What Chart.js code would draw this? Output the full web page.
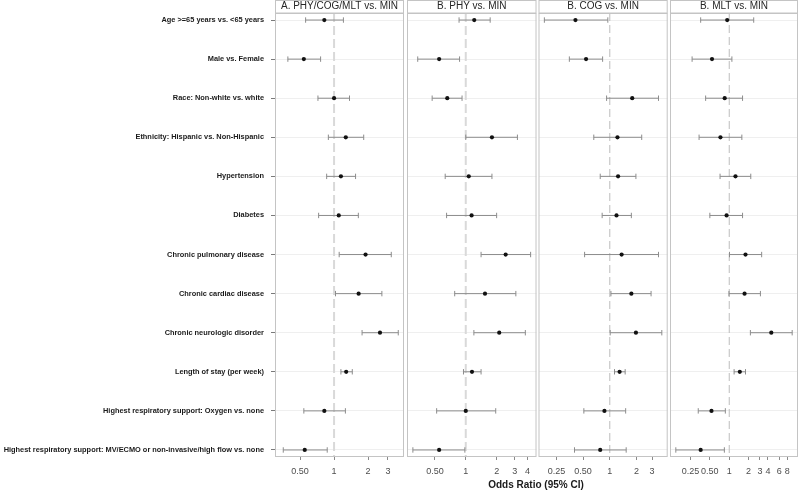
<!DOCTYPE html>
<html><head><meta charset="utf-8">
<script src="https://cdn.jsdelivr.net/npm/chart.js@4.4.1/dist/chart.umd.min.js"></script>
<style>
html,body{margin:0;padding:0;background:#fff;overflow:hidden;}
#wrap{position:relative;width:800px;height:495px;overflow:hidden;background:#fff;}
#wrap canvas{position:absolute;left:0;top:0;}
#xtitle{position:absolute;left:436px;width:200px;top:478px;text-align:center;font:bold 10px 'Liberation Sans',Arial,sans-serif;color:#1a1a1a;line-height:14px;}
</style></head>
<body><div id="wrap">
<canvas id="c0" width="820" height="495"></canvas>
<canvas id="c1" width="820" height="495"></canvas>
<canvas id="c2" width="820" height="495"></canvas>
<canvas id="c3" width="820" height="495"></canvas>
<div id="xtitle">Odds Ratio (95% CI)</div>
</div>
<script>
// ---------- data ----------
const categories = [
  "Age >=65 years vs. <65 years",
  "Male vs. Female",
  "Race: Non-white vs. white",
  "Ethnicity: Hispanic vs. Non-Hispanic",
  "Hypertension",
  "Diabetes",
  "Chronic pulmonary disease",
  "Chronic cardiac disease",
  "Chronic neurologic disorder",
  "Length of stay (per week)",
  "Highest respiratory support: Oxygen vs. none",
  "Highest respiratory support: MV/ECMO or non-invasive/high flow vs. none"
];
const panelTitles = ["A. PHY/COG/MLT vs. MIN", "B. PHY vs. MIN", "B. COG vs. MIN", "B. MLT vs. MIN"];

const orAll  = [0.82, 0.54, 1.00, 1.27, 1.15, 1.10, 1.90, 1.65, 2.55, 1.28, 0.82, 0.55];
const lowAll = [0.56, 0.39, 0.72, 0.89, 0.86, 0.73, 1.11, 1.03, 1.77, 1.15, 0.54, 0.355];
const highAll= [1.21, 0.76, 1.37, 1.83, 1.55, 1.64, 3.21, 2.65, 3.70, 1.45, 1.26, 0.87];

const orPhy  = [1.21, 0.55, 0.66, 1.80, 1.07, 1.14, 2.45, 1.54, 2.12, 1.15, 1.00, 0.55];
const lowPhy = [0.86, 0.34, 0.47, 1.00, 0.63, 0.65, 1.41, 0.78, 1.20, 0.95, 0.52, 0.305];
const highPhy= [1.73, 0.87, 0.92, 3.19, 1.80, 2.00, 4.29, 3.08, 3.81, 1.41, 1.96, 0.98];

const orCog  = [0.41, 0.54, 1.79, 1.22, 1.24, 1.19, 1.36, 1.75, 1.97, 1.29, 0.87, 0.78];
const lowCog = [0.183, 0.35, 0.92, 0.66, 0.78, 0.82, 0.52, 1.03, 1.01, 1.13, 0.51, 0.40];
const highCog= [0.95, 0.83, 3.54, 2.29, 1.97, 1.75, 3.54, 2.92, 3.86, 1.49, 1.51, 1.53];

const orMlt  = [0.93, 0.54, 0.85, 0.73, 1.25, 0.91, 1.79, 1.73, 4.50, 1.46, 0.53, 0.36];
const lowMlt = [0.36, 0.265, 0.43, 0.34, 0.72, 0.50, 1.01, 0.99, 2.13, 1.19, 0.33, 0.148];
const highMlt= [2.40, 1.10, 1.61, 1.57, 2.16, 1.61, 3.19, 3.05, 9.50, 1.79, 0.87, 0.84];

const ticksAll = [0.5, 1, 2, 3];            const tickLabelsAll = ["0.50", "1", "2", "3"];
const ticksPhy = [0.5, 1, 2, 3, 4];         const tickLabelsPhy = ["0.50", "1", "2", "3", "4"];
const ticksCog = [0.25, 0.5, 1, 2, 3];      const tickLabelsCog = ["0.25", "0.50", "1", "2", "3"];
const ticksMlt = [0.25, 0.5, 1, 2, 3, 4, 6, 8]; const tickLabelsMlt = ["0.25", "0.50", "1", "2", "3", "4", "6", "8"];

const refValue = 1;

// ---------- chart ----------
Chart.defaults.font.family = "'Liberation Sans', Arial, sans-serif";
Chart.defaults.animation = false;

const Y_MIN = 0.82, Y_MAX = 12.18;
const CANVAS_W = 820;

const framePlugin = {
  id: 'frame',
  beforeDraw(chart) {
    const {ctx, chartArea: a} = chart;
    ctx.save();
    ctx.fillStyle = '#ffffff';
    ctx.fillRect(a.left, 0, a.right - a.left, a.top);
    ctx.strokeStyle = '#c4c4c4';
    ctx.lineWidth = 1;
    ctx.strokeRect(a.left + 0.5, 0.5, a.right - a.left - 1, a.top - 0.5);
    ctx.restore();
  },
  afterDraw(chart) {
    const {ctx, chartArea: a} = chart;
    ctx.save();
    ctx.strokeStyle = '#c4c4c4';
    ctx.lineWidth = 1;
    ctx.strokeRect(a.left + 0.5, a.top + 0.5, a.right - a.left - 1, a.bottom - a.top - 1);
    ctx.restore();
  }
};

function makePanel(canvasId, title, ors, lows, highs, tickVals, tickLabels, left, right, showY, ref) {
  const allLo = Math.log(Math.min(...lows));
  const allHi = Math.log(Math.max(...highs));
  const ext = (allHi - allLo) * 0.05;
  const xMin = Math.exp(allLo - ext), xMax = Math.exp(allHi + ext);

  const datasets = [];
  datasets.push({
    data: ors.map((v, i) => ({x: v, y: i + 1})),
    pointRadius: 2.1, pointBackgroundColor: '#111', pointBorderWidth: 0,
    showLine: false, order: 0
  });
  ors.forEach((v, i) => {
    datasets.push({
      data: [{x: lows[i], y: i + 1}, {x: highs[i], y: i + 1}],
      showLine: true, borderColor: '#8c8c8c', borderWidth: 1,
      pointStyle: 'line', rotation: 90, pointRadius: 2.7,
      pointBorderColor: '#8c8c8c', pointBorderWidth: 1, order: 1
    });
  });
  datasets.push({
    data: [{x: refValue, y: Y_MIN}, {x: refValue, y: Y_MAX}],
    showLine: true, borderColor: ref.color, borderWidth: ref.width, borderDash: ref.dash,
    pointRadius: 0, order: 2
  });

  return new Chart(document.getElementById(canvasId), {
    type: 'scatter',
    data: {datasets},
    plugins: [framePlugin],
    options: {
      responsive: false,
      animation: false,
      layout: {padding: {left: showY ? 0 : left, right: CANVAS_W - right, top: 0, bottom: 0}},
      plugins: {
        legend: {display: false},
        tooltip: {enabled: false},
        title: {
          display: true, text: title, fullSize: false,
          font: {size: 10, weight: 'normal'}, color: '#262626',
          padding: {top: 0.5, bottom: 0.5}
        }
      },
      scales: {
        x: {
          type: 'logarithmic', position: 'bottom', min: xMin, max: xMax,
          afterBuildTicks: s => { s.ticks = tickVals.map(v => ({value: v})); },
          ticks: {
            autoSkip: false, maxRotation: 0, font: {size: 9}, color: '#4d4d4d', padding: 6,
            callback: (v) => { const k = tickVals.indexOf(v); return k >= 0 ? tickLabels[k] : ''; }
          },
          grid: {drawOnChartArea: false, drawTicks: true, tickLength: 3, tickColor: '#8a8a8a', color: '#8a8a8a'},
          border: {display: false},
          afterFit: s => { s.height = 38; s.paddingLeft = 0; s.paddingRight = 0; }
        },
        y: {
          type: 'linear', reverse: true, min: Y_MIN, max: Y_MAX,
          afterBuildTicks: s => { s.ticks = categories.map((c, i) => ({value: i + 1})); },
          ticks: {
            display: showY, autoSkip: false, font: {size: 7.4, weight: 'bold'}, color: '#1a1a1a', padding: 7,
            callback: (v) => categories[Math.round(v) - 1]
          },
          grid: {color: '#efefef', lineWidth: 1, drawTicks: showY, tickLength: 4, tickColor: '#7a7a7a'},
          border: {display: false},
          afterFit: s => { s.width = showY ? left : 0; s.paddingTop = 0; s.paddingBottom = 0; }
        }
      }
    }
  });
}

const refThick = {color: '#d9d9d9', width: 2, dash: [9, 4]};
const refThin = {color: '#bdbdbd', width: 1, dash: [8, 4]};

makePanel('c0', panelTitles[0], orAll, lowAll, highAll, ticksAll, tickLabelsAll, 275, 404, true, refThick);
makePanel('c1', panelTitles[1], orPhy, lowPhy, highPhy, ticksPhy, tickLabelsPhy, 407, 536.5, false, refThick);
makePanel('c2', panelTitles[2], orCog, lowCog, highCog, ticksCog, tickLabelsCog, 538.5, 667.7, false, refThin);
makePanel('c3', panelTitles[3], orMlt, lowMlt, highMlt, ticksMlt, tickLabelsMlt, 670, 798, false, refThin);
</script>
</body></html>
